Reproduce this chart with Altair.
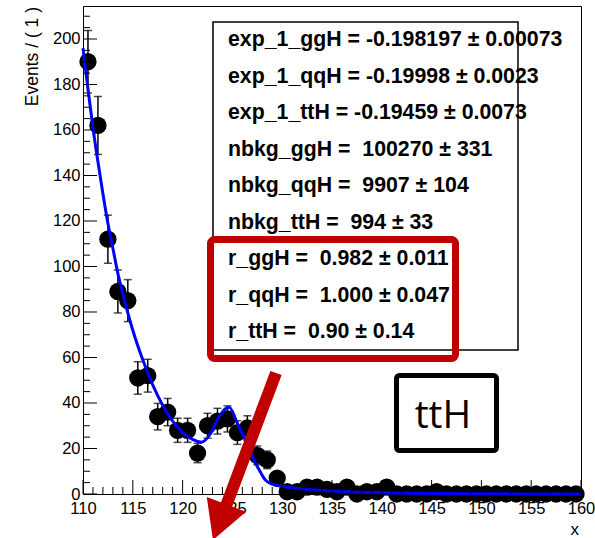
import altair as alt
import pandas as pd

# ---------------- data ----------------
bin_centers = [110.5 + i for i in range(50)]
counts = [190, 162, 112, 89, 85, 51, 52, 34, 36, 28,
          28, 18, 30, 32, 33, 27, 29, 17, 15, 7,
          1, 1, 3, 3, 2, 1, 3, 0, 1, 1,
          3, 0, 0, 0, 0, 1, 0, 0, 0, 0,
          0, 0, 0, 0, 0, 0, 0, 0, 0, 0]

curve_x = [110.0, 110.5, 111.0, 111.5, 112.0, 112.5, 113.0, 113.5, 114.0, 115.0,
           116.0, 117.0, 118.0, 119.0, 120.0, 121.0, 121.9, 122.8, 123.6, 124.3,
           124.7, 125.5, 126.3, 127.0, 127.7, 128.3, 129.0, 130.0, 131.5, 133.0,
           135.0, 137.0, 140.0, 145.0, 150.0, 155.0, 160.0]
curve_y = [196, 178, 161, 146, 132, 119, 108, 97, 88, 72,
           59, 48, 39, 32, 27, 24, 22.8, 26.5, 33.5, 37.5,
           38, 31, 23.7, 16.4, 10.5, 6.2, 4.3, 3.3, 2.5, 1.9,
           1.3, 0.9, 0.5, 0.2, 0.1, 0.05, 0.02]

x_major = [110, 115, 120, 125, 130, 135, 140, 145, 150, 155, 160]
x_minor = [v for v in range(110, 161) if v % 5 != 0]
y_major = [0, 20, 40, 60, 80, 100, 120, 140, 160, 180, 200]
y_minor = [v for v in range(0, 215, 5) if v % 20 != 0]

box_lines = [
    "exp_1_ggH = -0.198197 \u00b1 0.00073",
    "exp_1_qqH = -0.19998 \u00b1 0.0023",
    "exp_1_ttH = -0.19459 \u00b1 0.0073",
    "nbkg_ggH =\u00a0 100270 \u00b1 331",
    "nbkg_qqH =\u00a0 9907 \u00b1 104",
    "nbkg_ttH =\u00a0 994 \u00b1 33",
    "r_ggH =\u00a0 0.982 \u00b1 0.011",
    "r_qqH =\u00a0 1.000 \u00b1 0.047",
    "r_ttH =\u00a0 0.90 \u00b1 0.14",
]
y_title = "Events / ( 1 )"
x_title = "x"
tag_text = "ttH"

# ---------------- chart ----------------
W, H = 498, 488
FONT = "Liberation Sans"
RED = "#c00000"

xscale = alt.Scale(domain=[110, 160], nice=False, zero=False)
yscale = alt.Scale(domain=[0, 214.5], nice=False, zero=False)

xaxis = alt.Axis(values=x_major, ticks=False, grid=False, domainColor="black",
                 domainWidth=1, labelFont=FONT, labelFontSize=16.5, labelColor="black",
                 labelPadding=6, labelFlush=False, labelOverlap=False, title=None,
                 format="d")
yaxis = alt.Axis(values=y_major, ticks=False, grid=False, domainColor="black",
                 domainWidth=1, labelFont=FONT, labelFontSize=16.5, labelColor="black",
                 labelPadding=3, labelFlush=False, labelOverlap=False, title=None,
                 format="d")

X = lambda f: alt.X(f, type="quantitative", scale=xscale, axis=xaxis)
Y = lambda f: alt.Y(f, type="quantitative", scale=yscale, axis=yaxis)

pts = pd.DataFrame({"x": bin_centers, "n": counts})
cur = pd.DataFrame({"x": curve_x, "y": curve_y})

base = alt.Chart(pts).transform_calculate(
    lo="datum.n - sqrt(datum.n)", hi="datum.n + sqrt(datum.n)")

err = base.mark_rule(color="black", strokeWidth=1.5).encode(
    x=X("x"), y=Y("lo"), y2="hi:Q")
caps = base.transform_fold(["lo", "hi"], as_=["k", "v"]).mark_tick(
    orient="horizontal", size=8, thickness=1.5, color="black").encode(
    x=X("x"), y=Y("v"))
markers = base.mark_point(filled=True, size=300, color="black", opacity=1,
                          shape="circle").encode(x=X("x"), y=Y("n"))
line = alt.Chart(cur).mark_line(color="#0000ff", strokeWidth=3,
                                interpolate="monotone").encode(x=X("x"), y=Y("y"))

ymaj = alt.Chart(pd.DataFrame({"v": y_major})).mark_rule(color="black", strokeWidth=1).encode(
    y=Y("v"), x=alt.value(0), x2=alt.value(14))
ymin = alt.Chart(pd.DataFrame({"v": y_minor})).mark_rule(color="black", strokeWidth=1).encode(
    y=Y("v"), x=alt.value(0), x2=alt.value(7))
xmaj = alt.Chart(pd.DataFrame({"v": x_major})).mark_rule(color="black", strokeWidth=1).encode(
    x=X("v"), y=alt.value(H), y2=alt.value(H - 14))
xmin = alt.Chart(pd.DataFrame({"v": x_minor})).mark_rule(color="black", strokeWidth=1).encode(
    x=X("v"), y=alt.value(H), y2=alt.value(H - 7))

one = pd.DataFrame({"a": [0]})

ytitle = alt.Chart(one).mark_text(text=y_title, angle=270, align="right", baseline="middle",
                                  font=FONT, fontSize=17.5, color="black").encode(
    x=alt.value(-50.5), y=alt.value(1))
xtitle = alt.Chart(one).mark_text(text=x_title, align="right", baseline="middle",
                                  font=FONT, fontSize=17, color="black").encode(
    x=alt.value(W - 2), y=alt.value(524))

statbox = alt.Chart(one).mark_rect(fill="white", stroke="black", strokeWidth=1.5).encode(
    x=alt.value(130), x2=alt.value(435), y=alt.value(16), y2=alt.value(344))

texts = []
for i, s in enumerate(box_lines):
    texts.append(alt.Chart(one).mark_text(text=s, align="left", baseline="middle",
                                          font=FONT, fontSize=21.3, fontWeight="bold",
                                          color="black").encode(
        x=alt.value(145), y=alt.value(34 + i * 36.5)))

redbox = alt.Chart(one).mark_rect(fill="white", fillOpacity=0, stroke=RED, strokeWidth=7,
                                  cornerRadius=4).encode(
    x=alt.value(127.5), x2=alt.value(372.5), y=alt.value(233.5), y2=alt.value(352.5))

shaft = alt.Chart(one).mark_rule(color=RED, strokeWidth=12).encode(
    x=alt.value(193), y=alt.value(367), x2=alt.value(140), y2=alt.value(508))
head = alt.Chart(one).mark_point(shape="M -1 -0.905 L 1 -0.905 L 0 0.905 Z", size=1764,
                                 filled=True, fill=RED, color=RED, opacity=1,
                                 strokeWidth=0, angle=20.7).encode(
    x=alt.value(136.7), y=alt.value(516.2))

tagbox = alt.Chart(one).mark_rect(fill="white", stroke="black", strokeWidth=5,
                                  cornerRadius=3).encode(
    x=alt.value(313.5), x2=alt.value(413.5), y=alt.value(369.5), y2=alt.value(444.5))
tag = alt.Chart(one).mark_text(text=tag_text, align="center", baseline="middle",
                               font="Open Sans", fontSize=39, color="black").encode(
    x=alt.value(360), y=alt.value(410))

chart = alt.layer(
    err, caps, markers, line, ymaj, ymin, xmaj, xmin, ytitle, xtitle,
    statbox, *texts, redbox, shaft, head, tagbox, tag
).properties(
    width=W, height=H, autosize="none",
    padding={"left": 83, "top": 6, "right": 14, "bottom": 44},
).configure_view(stroke="black", strokeWidth=1)

chart.save("out.html", embed_options={"renderer": "svg", "actions": False})
